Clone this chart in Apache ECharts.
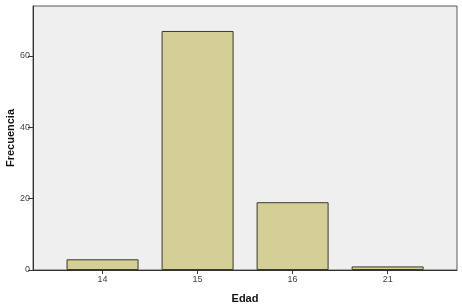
<!DOCTYPE html>
<html><head><meta charset="utf-8">
<script src="https://cdn.jsdelivr.net/npm/echarts@6/dist/echarts.min.js"></script>
<style>html,body{margin:0;padding:0;background:#fff}#c{width:462px;height:306px}</style>
</head><body><div id="c"></div>
<script>
const categories = ['14', '15', '16', '21'];
const frequencies = [3, 67, 19, 1];
const yTicks = [0, 20, 40, 60];

const chart = echarts.init(document.getElementById('c'), null, {renderer: 'canvas'});
const font = 'Liberation Sans, Arial, sans-serif';
chart.setOption({
  animation: false,
  grid: {left: 33, top: 6, right: 5, bottom: 36, show: true, backgroundColor: '#efefef', borderColor: '#5a5a5a', borderWidth: 1, containLabel: false, outerBoundsMode: 'none'},
  xAxis: {
    type: 'value', min: -0.732, max: 3.73,
    name: 'Edad', nameLocation: 'middle', nameGap: 23,
    nameTextStyle: {fontFamily: font, fontWeight: 'bold', fontSize: 11, color: '#111'},
    splitLine: {show: false},
    axisLine: {show: true, onZero: false, lineStyle: {color: '#333', width: 1}},
    axisTick: {show: true, length: 4, customValues: categories.map((c, i) => i), lineStyle: {color: '#333'}},
    axisLabel: {customValues: categories.map((c, i) => i), formatter: v => categories[Math.round(v)], fontFamily: font, fontSize: 9, color: '#444', margin: 5}
  },
  yAxis: {
    type: 'value', min: 0, max: 74,
    name: 'Frecuencia', nameLocation: 'middle', nameGap: 17, nameRotate: 90, nameMoveOverlap: false,
    nameTextStyle: {fontFamily: font, fontWeight: 'bold', fontSize: 11, color: '#111'},
    splitLine: {show: false},
    axisLine: {show: true, onZero: false, lineStyle: {color: '#333', width: 1}},
    axisTick: {show: true, length: 5, customValues: yTicks, lineStyle: {color: '#333'}},
    axisLabel: {customValues: yTicks, fontFamily: font, fontSize: 9, color: '#444', margin: 3}
  },
  series: [{
    type: 'bar',
    data: frequencies.map((v, i) => [i, v]),
    barWidth: 72,
    itemStyle: {color: '#d3cf97', borderColor: '#3a3a2c', borderWidth: 1}
  }]
});
</script></body></html>
